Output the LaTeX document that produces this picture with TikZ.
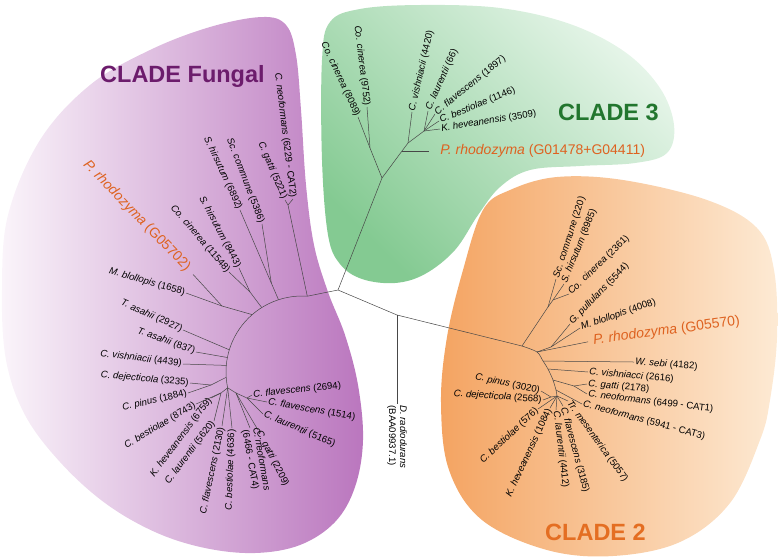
\documentclass[tikz,border=0pt]{standalone}
\usepackage{fontspec}
\setmainfont{Liberation Sans}

\definecolor{fungalL}{RGB}{250,244,250}
\definecolor{fungalR}{RGB}{186,118,190}
\definecolor{greenD}{RGB}{132,202,146}
\definecolor{greenL}{RGB}{230,245,233}
\definecolor{orangeD}{RGB}{244,164,98}
\definecolor{orangeL}{RGB}{253,234,212}
\definecolor{fungalT}{RGB}{108,28,108}
\definecolor{cladeG}{RGB}{34,118,46}
\definecolor{cladeO}{RGB}{228,110,34}
\definecolor{rhodoC}{RGB}{222,98,32}

\newcommand{\leaffont}{\fontsize{9.6}{11}\selectfont}
\newcommand{\rhodofont}{\fontsize{14}{16}\selectfont}
\newcommand{\cladefont}{\fontsize{23.5}{26}\selectfont\bfseries}
\newcommand{\taxon}[2]{\textit{#1} (#2)}

\begin{document}
\begin{tikzpicture}[x=1pt, y=-1pt,
  branch/.style={draw=black!72, line width=0.5pt},
  leafE/.style={font=\leaffont, inner sep=1.2pt, anchor=east},
  leafW/.style={font=\leaffont, inner sep=1.2pt, anchor=west},
  rhodo/.style={font=\rhodofont, text=rhodoC, inner sep=1.2pt},
  clade/.style={font=\cladefont, inner sep=0pt, anchor=base west}]
\useasboundingbox (0,0) rectangle (778,558);

% clade areas
\shade[left color=fungalL, right color=fungalR] plot[smooth cycle, tension=0.6] coordinates {(8,215) (40,140) (90,85) (150,50) (210,27) (262,17) (286,25) (296,55) (301,110) (306,185) (314,245) (328,292) (345,335) (358,385) (363,440) (355,487) (335,522) (300,545) (255,553) (205,548) (155,532) (105,503) (60,462) (25,415) (6,360) (2,290)};
\shade[top color=greenL, bottom color=greenD, shading angle=-45] plot[smooth cycle, tension=0.6] coordinates {(322,60) (330,22) (360,9) (420,5) (500,8) (570,24) (625,52) (660,88) (674,125) (667,153) (635,163) (580,166) (530,170) (500,187) (478,215) (455,250) (425,274) (395,283) (362,279) (340,264) (328,235) (322,160)};
\shade[left color=orangeD, right color=orangeL] plot[smooth cycle, tension=0.6] coordinates {(483,210) (510,190) (557,177) (623,180) (707,200) (757,228) (774,270) (777,337) (770,400) (760,440) (730,503) (680,542) (613,556) (547,550) (482,520) (449,470) (441,403) (447,337) (463,270)};

\node[clade, text=fungalT] (tFungal) at (100,82) {CLADE Fungal};
\node[clade, text=cladeG] (tThree) at (558,120) {CLADE 3};
\node[clade, text=cladeO] (tTwo) at (545,540) {CLADE 2};

% backbone
\coordinate (root) at (338,290);
\coordinate (fRoot) at (307.3,296.2);
\coordinate (dJ) at (397,315);
\coordinate (tRoot) at (382,178);
\coordinate (sRoot) at (522,346);
\draw[branch] (fRoot) -- (root) -- (tRoot);
\draw[branch] (root) -- (dJ) -- (sRoot);
\node[leafW, rotate=-90, align=left] (drad) at (397,404) {\textit{D. radiodurans}\\(BAA09937.1)};
\draw[branch] (dJ) -- (drad.west);

% clade 3
\coordinate (tCo) at (370,148);
\coordinate (tA) at (402,151);
\coordinate (tB) at (408,143);
\coordinate (tC) at (424,131);
\node[leafE, rotate=-83] (co9752) at (367,107) {\taxon{Co. cinerea}{9752}};
\node[leafE, rotate=-65] (co8089) at (358,117) {\taxon{Co. cinerea}{8089}};
\node[leafW, rotate=77] (cv4420) at (412,112) {\taxon{C. vishniacii}{4420}};
\node[leafW, rotate=66] (cl66) at (428,111) {\taxon{C. laurentii}{66}};
\node[leafW, rotate=39] (cf1897) at (435,114) {\taxon{C. flavescens}{1897}};
\node[leafW, rotate=22] (cb1146) at (439,121) {\taxon{C. bestiolae}{1146}};
\node[leafW, rotate=9] (kh3509) at (440,129) {\taxon{K. heveanensis}{3509}};
\node[rhodo, anchor=west] (pr3) at (439,151) {\taxon{P. rhodozyma}{G01478+G04411}};
\draw[branch] (tRoot) -- (tCo) -- (co9752.east);
\draw[branch] (tCo) -- (co8089.east);
\draw[branch] (tRoot) -- (tA) -- (tB) -- (tC);
\draw[branch] (tB) -- (cv4420.west);
\draw[branch] (tC) -- (cl66.west);
\draw[branch] (tC) -- (cf1897.west);
\draw[branch] (tC) -- (cb1146.west);
\draw[branch] (tC) -- (kh3509.west);
\draw[branch, shorten >=10pt] (tA) -- (pr3.west);

% clade fungal
\draw[branch] (fRoot) arc[start angle=-86, end angle=-192, radius=76];
\coordinate (fA1) at (278.5,299.7);
\coordinate (fA2) at (261.7,307.5);
\coordinate (fA3) at (252.1,314.6);
\coordinate (fA4) at (229.3,349.8);
\coordinate (fA5) at (227.4,357.5);
\coordinate (fA6) at (226.3,365.4);
\coordinate (fA7) at (226.2,377.3);
\coordinate (fA8) at (227.7,387.8);

\coordinate (fGat) at (288,205);
\node[leafE, rotate=-67] (cg5221) at (285,200) {\taxon{C. gatti}{5221}};
\node[leafE, rotate=-83] (cn6229) at (293,199) {\taxon{C. neoformans}{6229 - CAT2}};
\draw[branch] (fRoot) -- (fGat) -- (cg5221.east);
\draw[branch] (fGat) -- (cn6229.east);

\coordinate (fSc) at (271.3,283);
\node[leafE, rotate=-69] (sc5386) at (262,224) {\taxon{Sc. commune}{5386}};
\node[leafE, rotate=-65] (sh6892) at (240,210) {\taxon{S. hirsutum}{6892}};
\draw[branch] (fA1) -- (fSc) -- (sh6892.east);
\draw[branch] (fSc) -- (sc5386.east);

\coordinate (fSh) at (250,292);
\node[leafE, rotate=-62] (sh8443) at (239,268) {\taxon{S. hirsutum}{8443}};
\node[leafE, rotate=-49] (co11548) at (229,272) {\taxon{Co. cinerea}{11548}};
\draw[branch] (fA2) -- (fSh) -- (sh8443.east);
\draw[branch] (fSh) -- (co11548.east);

\coordinate (fMb) at (222,306);
\node[rhodo, anchor=east, rotate=-46] (pr5702) at (189,270) {\taxon{P. rhodozyma}{G05702}};
\node[leafE, rotate=-16] (mb1658) at (186,293) {\taxon{M. blollopis}{1658}};
\draw[branch] (fA3) -- (fMb) -- (mb1658.east);
\draw[branch, shorten >=6pt] (fMb) -- (pr5702.east);

\node[leafE, rotate=-24] (ta2927) at (183,330) {\taxon{T. asahii}{2927}};
\node[leafE, rotate=-20] (ta837) at (196,352) {\taxon{T. asahii}{837}};
\node[leafE, rotate=-7] (cv4439) at (183,364) {\taxon{C. vishniacii}{4439}};
\draw[branch] (fA4) -- (ta2927.east);
\draw[branch] (fA5) -- (ta837.east);
\draw[branch] (fA6) -- (cv4439.east);

\coordinate (fLd) at (211,385);
\node[leafE, rotate=-5] (cd3235) at (190,383) {\taxon{C. dejecticola}{3235}};
\node[leafE, rotate=13] (cp1884) at (188,393) {\taxon{C. pinus}{1884}};
\draw[branch] (fA7) -- (fLd) -- (cd3235.east);
\draw[branch] (fLd) -- (cp1884.east);

\coordinate (fLb) at (221,393);
\node[leafE, rotate=31] (cb8743) at (196,404) {\taxon{C. bestiolae}{8743}};
\node[leafE, rotate=53] (kh6759) at (211,398) {\taxon{K. heveanensis}{6759}};
\node[leafE, rotate=53] (cl5620) at (214,421) {\taxon{C. laurentii}{5620}};
\draw[branch] (fA8) -- (fLb) -- (cb8743.east);
\draw[branch] (fLb) -- (kh6759.east);
\draw[branch] (fLb) -- (cl5620.east);

\node[leafE, rotate=78] (cf2130) at (222,426) {\taxon{C. flavescens}{2130}};
\node[leafE, rotate=88] (cb4636) at (232,428) {\taxon{C. bestiolae}{4636}};
\draw[branch] (fA8) -- (cf2130.east);
\draw[branch] (fA8) -- (cb4636.east);

\coordinate (fLr) at (236,393);
\coordinate (fLf) at (247,398);
\node[leafW, rotate=-80, align=left] (cn6466) at (250,428) {\textit{C. neoformans}\\(6466 - CAT4)};
\node[leafW, rotate=-63] (cg2209) at (258,430) {\taxon{C. gatti}{2209}};
\node[leafW, rotate=6] (cf2694) at (252,395) {\taxon{C. flavescens}{2694}};
\node[leafW, rotate=-10] (cf1514) at (267,402) {\taxon{C. flavescens}{1514}};
\node[leafW, rotate=-23] (cl5165) at (263,414) {\taxon{C. laurentii}{5165}};
\draw[branch] (fA8) -- (fLr) -- (fLf) -- (cf2694.west);
\draw[branch] (fLf) -- (cf1514.west);
\draw[branch] (fLf) -- (cl5165.west);
\draw[branch] (fLr) -- (cn6466.west);
\draw[branch] (fLr) -- (cg2209.west);

% clade 2
\coordinate (sA1) at (537,352);
\coordinate (sA2) at (543,361);
\coordinate (sA3) at (548,369);
\coordinate (sA4) at (553,380);
\coordinate (sA5) at (556,390);
\draw[branch] plot[smooth] coordinates {(sRoot) (sA1) (sA2) (sA3) (sA4) (sA5)};

\coordinate (sJa) at (548,307);
\coordinate (sJb) at (553,300);
\node[leafW, rotate=72] (sc220) at (556,279) {\taxon{Sc. commune}{220}};
\node[leafW, rotate=68] (sh8985) at (564,284) {\taxon{S. hirsutum}{8985}};
\node[leafW, rotate=44] (co2361) at (569,294) {\taxon{Co. cinerea}{2361}};
\draw[branch] (sRoot) -- (sJa) -- (sc220.west);
\draw[branch] (sJa) -- (sJb) -- (sh8985.west);
\draw[branch] (sJb) -- (co2361.west);

\coordinate (sJc) at (551,347);
\node[leafW, rotate=46] (gp5544) at (570,324) {\taxon{G. pullulans}{5544}};
\node[leafW, rotate=19] (mb4008) at (580,328) {\taxon{M. blollopis}{4008}};
\node[rhodo, anchor=west, rotate=7.5] (pr5570) at (592,341) {\taxon{P. rhodozyma}{G05570}};
\draw[branch] (sA1) -- (sJc) -- (gp5544.west);
\draw[branch] (sJc) -- (mb4008.west);
\draw[branch, shorten >=4pt] (sA1) -- (pr5570.west);

\node[leafW, rotate=-4.5] (ws4182) at (634,362) {\taxon{W. sebi}{4182}};
\node[leafW, rotate=-5] (cv2616) at (588,372) {\taxon{C. vishniacci}{2616}};
\draw[branch] (sA2) -- (ws4182.west);
\draw[branch] (sA3) -- (cv2616.west);

\coordinate (sJe) at (574,386);
\node[leafW, rotate=-5] (cg2178) at (587,384) {\taxon{C. gatti}{2178}};
\node[leafW, rotate=-7] (cn6499) at (587,394) {\taxon{C. neoformans}{6499 - CAT1}};
\node[leafW, rotate=-15] (cn5941) at (582,404) {\taxon{C. neoformans}{5941 - CAT3}};
\draw[branch] (sA4) -- (sJe) -- (cg2178.west);
\draw[branch] (sJe) -- (cn6499.west);
\draw[branch] (sA5) -- (cn5941.west);

\coordinate (sJg) at (557,396);
\coordinate (sJh) at (551,397);
\node[leafW, rotate=-54] (tm5057) at (568,401) {\taxon{Tr. mesenterica}{5057}};
\node[leafW, rotate=-75] (cf3185) at (563,406) {\taxon{C. flavescens}{3185}};
\node[leafW, rotate=-83] (cl4412) at (556,410) {\taxon{C. laurentii}{4412}};
\node[leafE, rotate=65] (kh1084) at (550,408) {\taxon{K. heveanensis}{1084}};
\node[leafE, rotate=43] (cb576) at (538,409) {\taxon{C. bestiolae}{576}};
\node[leafE, rotate=-4] (cd2568) at (543,400) {\taxon{C. dejecticola}{2568}};
\node[leafE, rotate=-12] (cp3020) at (541,391) {\taxon{C. pinus}{3020}};
\draw[branch] (sA5) -- (sJg) -- (tm5057.west);
\draw[branch] (sJg) -- (cf3185.west);
\draw[branch] (sJg) -- (cl4412.west);
\draw[branch] (sJg) -- (kh1084.east);
\draw[branch] (sJg) -- (cb576.east);
\draw[branch] (sJg) -- (sJh) -- (cd2568.east);
\draw[branch] (sJh) -- (cp3020.east);
\end{tikzpicture}
\end{document}
